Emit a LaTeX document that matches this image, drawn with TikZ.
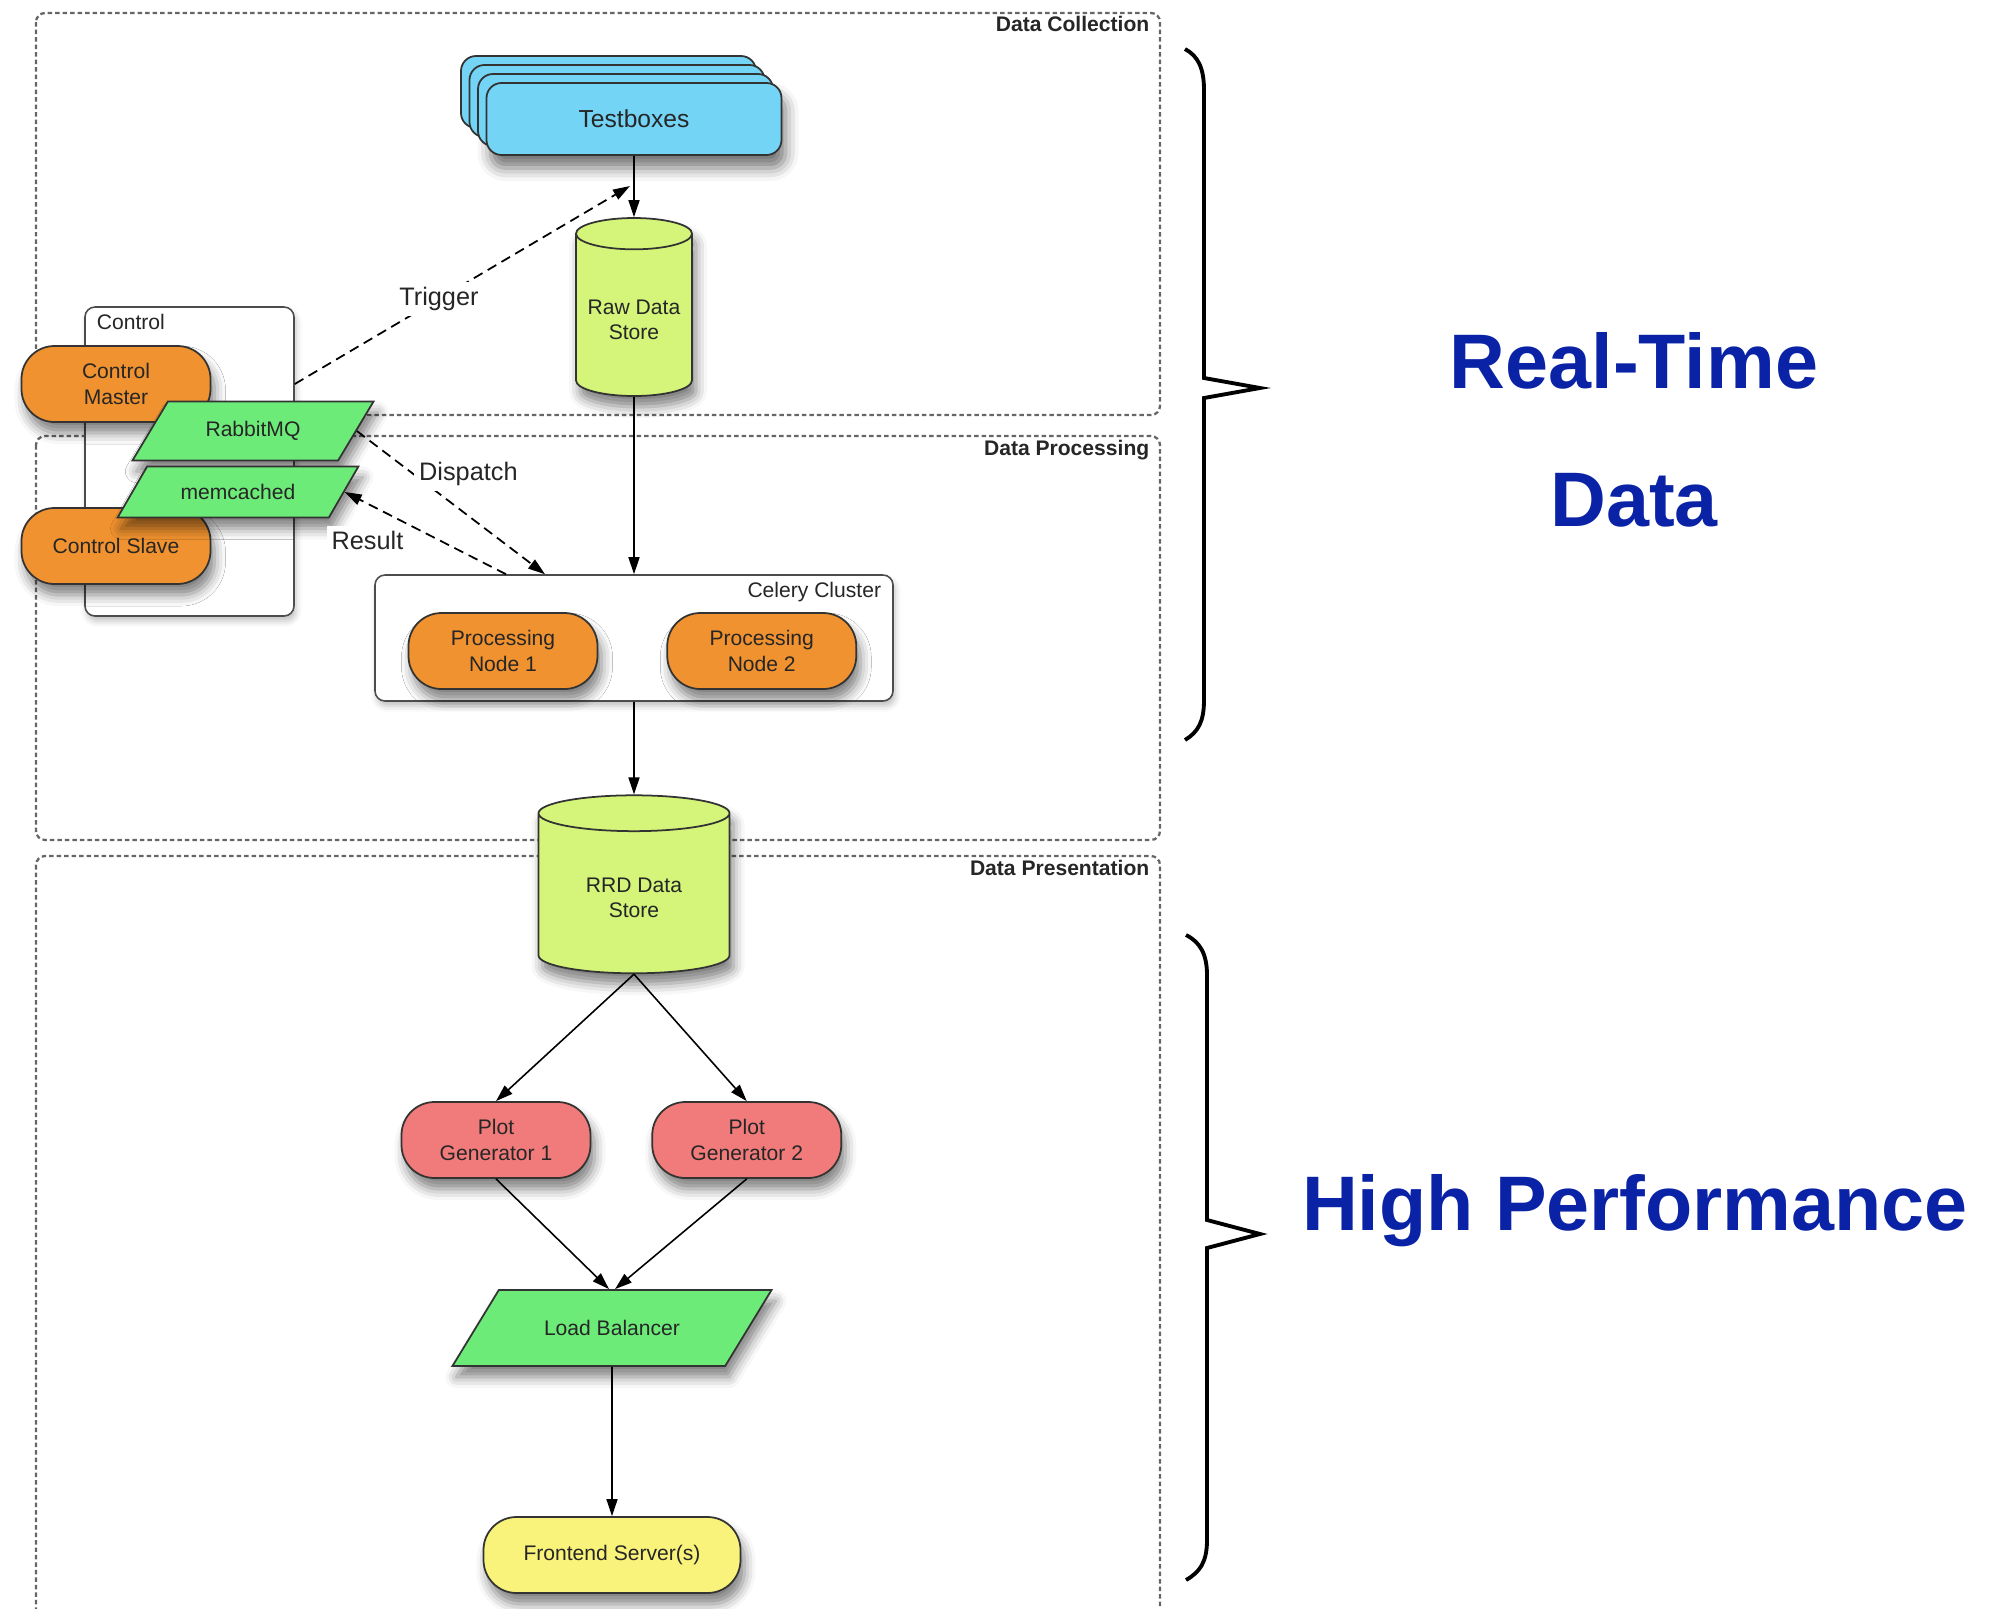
\documentclass[tikz,border=0pt]{standalone}
\usepackage{fontspec}
\setmainfont{Liberation Sans}
\usepackage{xcolor}
\usetikzlibrary{shapes.geometric,shadows,shadows.blur,arrows.meta,positioning}
\definecolor{tbblue}{HTML}{74D4F5}
\definecolor{storegreen}{HTML}{D4F57A}
\definecolor{procorange}{HTML}{F0922F}
\definecolor{queuegreen}{HTML}{6DEB79}
\definecolor{plotred}{HTML}{F07B7A}
\definecolor{frontyellow}{HTML}{F9F27B}
\definecolor{bigblue}{HTML}{0A22A6}

\begin{document}
\begin{tikzpicture}[x=0.1mm, y=-0.1mm, >={Triangle[length=1.7mm,width=1.1mm]},
    every node/.style = {font=\fontsize{6}{7.2}\selectfont, text=black!85},
    areabox/.style = {draw=black!60, line width=0.65pt, dash pattern=on 0.45mm off 0.3mm, rounded corners=0.9mm},
    arealbl/.style = {font=\bfseries\fontsize{6}{7.2}\selectfont, inner sep=0pt},
    soft/.style = {blur shadow={shadow xshift=0.4mm, shadow yshift=-1.1mm, shadow blur radius=1.1mm, shadow opacity=50}},
    pillnode/.style = {draw=black!80, line width=0.5pt, rounded corners=3.3mm, minimum width=18.9mm, minimum height=7.6mm, align=center, soft},
    storenode/.style = {cylinder, shape border rotate=90, draw=black!80, line width=0.5pt, fill=storegreen, align=center, soft},
    queuenode/.style = {trapezium, trapezium left angle=60, trapezium right angle=120, trapezium stretches=true, draw=black!80, line width=0.5pt, fill=queuegreen, soft},
    groupbox/.style = {draw=black!70, line width=0.45pt, fill=white, rounded corners=1mm, blur shadow={shadow xshift=0.2mm, shadow yshift=-0.5mm, shadow blur radius=0.6mm, shadow opacity=25}},
    flowline/.style = {->, line width=0.45pt},
    ctlline/.style = {->, line width=0.5pt, dash pattern=on 1mm off 0.6mm},
    edgelbl/.style = {font=\fontsize{7.2}{8.6}\selectfont, fill=white, inner sep=0.5mm},
    bigtext/.style = {font=\bfseries\fontsize{22}{26}\selectfont, text=bigblue, anchor=base},
    bracket/.style = {line width=1.1pt, line join=miter}]
  \useasboundingbox (0,0) rectangle (1995,1609);
  \clip (0,0) rectangle (1995,1609);

  \draw[areabox] (36,13) rectangle (1160,415);
  \draw[areabox] (36,436) rectangle (1160,840);
  \draw[areabox] (36,856) rectangle (1160,1660);
  \node[arealbl, anchor=east] (l_coll) at (1150,24) {Data Collection};
  \node[arealbl, anchor=east] (l_proc) at (1150,450) {Data Processing};
  \node[arealbl, anchor=east] (l_pres) at (1150,868) {Data Presentation};

  \node[groupbox, minimum width=20.9mm, minimum height=30.9mm] (n_ctrl) at (189.5,461.5) {};
  \node[anchor=north west, inner xsep=1.2mm, inner ysep=0.7mm] (l_ctrl) at (n_ctrl.north west) {Control};
  \node[pillnode, fill=procorange] (n_master) at (116,384) {Control\\Master};
  \node[pillnode, fill=procorange] (n_slave) at (116,546) {Control Slave};
  \node[queuenode, minimum width=24.2mm, minimum height=5.9mm] (n_rabbit) at (253,431) {RabbitMQ};
  \node[queuenode, minimum width=24.2mm, minimum height=5.1mm] (n_memc) at (238,492) {memcached};

  \node[draw=black!80, line width=0.5pt, fill=tbblue, rounded corners=1.5mm, minimum width=29.5mm, minimum height=7.2mm, font=\fontsize{7}{8.4}\selectfont,
    blur shadow={shadow xshift=0.4mm, shadow yshift=-1.3mm, shadow blur radius=1.3mm, shadow opacity=55},
    general shadow={fill=tbblue, draw=black!80, shadow xshift=-2.55mm, shadow yshift=2.7mm},
    general shadow={fill=tbblue, draw=black!80, shadow xshift=-1.7mm, shadow yshift=1.8mm},
    general shadow={fill=tbblue, draw=black!80, shadow xshift=-0.85mm, shadow yshift=0.9mm}] (n_test) at (634,119) {Testboxes};
  \node[storenode, minimum width=11.5mm, minimum height=17.8mm, aspect=0.27] (n_raw) at (634,320) {Raw Data\\Store};
  \coordinate (trig_end) at (630,186);

  \node[groupbox, minimum width=51.8mm, minimum height=12.6mm] (n_celery) at (634,638) {};
  \node[anchor=north east, inner xsep=1.2mm, inner ysep=0.7mm] (l_celery) at (n_celery.north east) {Celery Cluster};
  \node[pillnode, fill=procorange] (n_proc1) at (503,651) {Processing\\Node 1};
  \node[pillnode, fill=procorange, right=6.8mm of n_proc1] (n_proc2) {Processing\\Node 2};

  \node[storenode, minimum width=19.1mm, minimum height=17.8mm, aspect=0.3] (n_rrd) at (634,898) {RRD Data\\Store};
  \node[pillnode, fill=plotred] (n_plot1) at (496,1140) {Plot\\Generator 1};
  \node[pillnode, fill=plotred, right=6mm of n_plot1] (n_plot2) {Plot\\Generator 2};
  \node[queuenode, trapezium left angle=50, trapezium right angle=130, minimum width=32mm, minimum height=7.6mm] (n_lb) at (612,1328) {Load Balancer};
  \node[pillnode, fill=frontyellow, minimum width=25.7mm] (n_front) at (612,1555) {Frontend Server(s)};

  \draw[flowline] (n_test.south) -- (n_raw.north);
  \draw[ctlline] (n_ctrl.east |- n_master) -- node[edgelbl, pos=0.43] (l_trig) {Trigger} (trig_end);
  \draw[ctlline] (n_rabbit.east) -- node[edgelbl, pos=0.3, anchor=west] (l_disp) {Dispatch} ([xshift=-8.9mm]n_celery.north);
  \draw[ctlline] ([xshift=-12.8mm]n_celery.north) -- node[edgelbl, pos=0.6, anchor=north east] (l_res) {Result} (n_memc.east);
  \draw[flowline] (n_raw.south) -- (n_celery.north);
  \draw[flowline] (n_celery.south) -- (n_rrd.north);
  \draw[flowline] (n_rrd.south) -- (n_plot1.north);
  \draw[flowline] (n_rrd.south) -- (n_plot2.north);
  \draw[flowline] (n_plot1.south) -- ([xshift=-0.3mm]n_lb.north);
  \draw[flowline] (n_plot2.south) -- ([xshift=0.3mm]n_lb.north);
  \draw[flowline] (n_lb.south) -- (n_front.north);

  \draw[bracket] (1185,49) .. controls (1198,56) and (1204,68) .. (1204,90) -- (1204,378) -- (1260,388) -- (1204,398) -- (1204,700) .. controls (1204,722) and (1198,732) .. (1185,740);
  \draw[bracket] (1186,935) .. controls (1200,942) and (1207,954) .. (1207,975) -- (1207,1220) -- (1260,1234) -- (1207,1248) -- (1207,1540) .. controls (1207,1562) and (1200,1572) .. (1186,1580);
  \node[bigtext] (n_rt1) at (1634,388) {Real-Time};
  \node[bigtext] (n_rt2) at (1634,526) {Data};
  \node[bigtext] (n_hp) at (1635,1230) {High Performance};
\end{tikzpicture}
\end{document}
